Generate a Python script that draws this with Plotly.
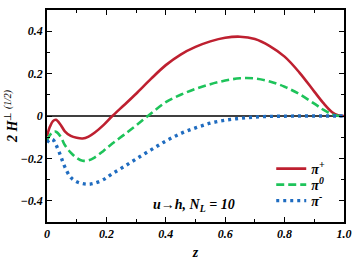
import plotly.graph_objects as go

z = [0, 0.01, 0.02, 0.03, 0.045, 0.06, 0.08, 0.1, 0.12, 0.14, 0.16, 0.19, 0.22, 0.26, 0.3,
     0.35, 0.4, 0.45, 0.5, 0.55, 0.6, 0.65, 0.7, 0.75, 0.8, 0.85, 0.9, 0.93, 0.96, 0.98, 1.0]

h_pi_plus = [-0.095, -0.05, -0.024, -0.018, -0.04, -0.072, -0.094, -0.103, -0.106, -0.097,
             -0.079, -0.043, 0.0, 0.052, 0.105, 0.175, 0.24, 0.29, 0.326, 0.352, 0.369,
             0.374, 0.363, 0.33, 0.28, 0.205, 0.115, 0.062, 0.018, 0.003, 0.0]

h_pi_zero = [-0.115, -0.09, -0.076, -0.074, -0.095, -0.137, -0.173, -0.198, -0.211, -0.209,
             -0.196, -0.165, -0.13, -0.088, -0.045, 0.012, 0.065, 0.1, 0.128, 0.15, 0.167,
             0.178, 0.177, 0.163, 0.138, 0.103, 0.058, 0.03, 0.008, 0.001, 0.0]

h_pi_minus = [-0.125, -0.11, -0.112, -0.135, -0.185, -0.24, -0.29, -0.31, -0.319, -0.322,
              -0.317, -0.3, -0.272, -0.238, -0.203, -0.16, -0.118, -0.083, -0.056, -0.034,
              -0.02, -0.011, -0.005, -0.002, -0.001, 0.0, 0.0, 0.0, 0.0, 0.0, 0.0]

series_names = ["π<sup>+</sup>", "π<sup>0</sup>", "π<sup>-</sup>"]

x_tickvals = [0, 0.2, 0.4, 0.6, 0.8, 1.0]
x_ticktext = ["0", "0.2", "0.4", "0.6", "0.8", "1.0"]
y_tickvals = [-0.4, -0.2, 0, 0.2, 0.4]
y_ticktext = ["−0.4", "−0.2", "0", "0.2", "0.4"]

FONT = "Liberation Serif"

fig = go.Figure()
fig.add_trace(go.Scatter(x=z, y=h_pi_plus, mode="lines", name=series_names[0], legend="legend",
                         line=dict(color="#BE2030", width=2.6, shape="spline")))
fig.add_trace(go.Scatter(x=z, y=h_pi_zero, mode="lines", name=series_names[1], legend="legend2",
                         line=dict(color="#1EC35A", width=2.6, dash="8px,4px", shape="spline")))
fig.add_trace(go.Scatter(x=z, y=h_pi_minus, mode="lines", name=series_names[2], legend="legend3",
                         line=dict(color="#1F6CC0", width=3.4, dash="3px,4px", shape="spline")))

axis_common = dict(
    showline=True, linecolor="black", linewidth=1.5, mirror="allticks",
    ticks="inside", ticklen=5, tickwidth=1, tickcolor="black",
    showgrid=False, zeroline=False, automargin=False,
    tickfont=dict(family=FONT, size=12, color="black", weight="bold", style="italic"),
)

fig.update_xaxes(range=[0, 1], tickvals=x_tickvals, ticktext=x_ticktext,
                 minor=dict(ticks="inside", dtick=0.1, tick0=0, ticklen=3, tickcolor="black"),
                 title=dict(text="<b><i>z</i></b>", font=dict(family=FONT, size=14, color="black"),
                            standoff=7),
                 **axis_common)
fig.update_yaxes(range=[-0.5, 0.5], tickvals=y_tickvals, ticktext=y_ticktext,
                 minor=dict(ticks="inside", dtick=0.1, tick0=0, ticklen=3, tickcolor="black"),
                 title=dict(text="<b><i>2 H</i></b><sup>⊥ <i>(1/2)</i></sup>",
                            font=dict(family=FONT, size=14, color="black"), standoff=0),
                 **axis_common)

fig.add_hline(y=0, line=dict(color="black", width=1.5), layer="below")

fig.add_annotation(x=0.495, y=0.03, xref="paper", yref="paper",
                   text="<b><i>u→h, N<sub>L</sub> = 10</i></b>", showarrow=False,
                   font=dict(family=FONT, size=14, color="black"))

legend_font = dict(family=FONT, size=14, color="black", weight="bold", style="italic")
legend_common = dict(x=0.755, xanchor="left", yanchor="middle",
                     bgcolor="rgba(0,0,0,0)", borderwidth=0, font=legend_font)

fig.update_layout(
    width=353, height=265,
    margin=dict(l=47, r=9, t=10, b=43),
    paper_bgcolor="white", plot_bgcolor="white",
    showlegend=True,
    legend=dict(y=0.25, **legend_common),
    legend2=dict(y=0.1745, **legend_common),
    legend3=dict(y=0.099, **legend_common),
)

fig.write_html("out.html", config={"displayModeBar": False},
               post_script="document.body.style.margin='0';document.body.style.padding='0';")
